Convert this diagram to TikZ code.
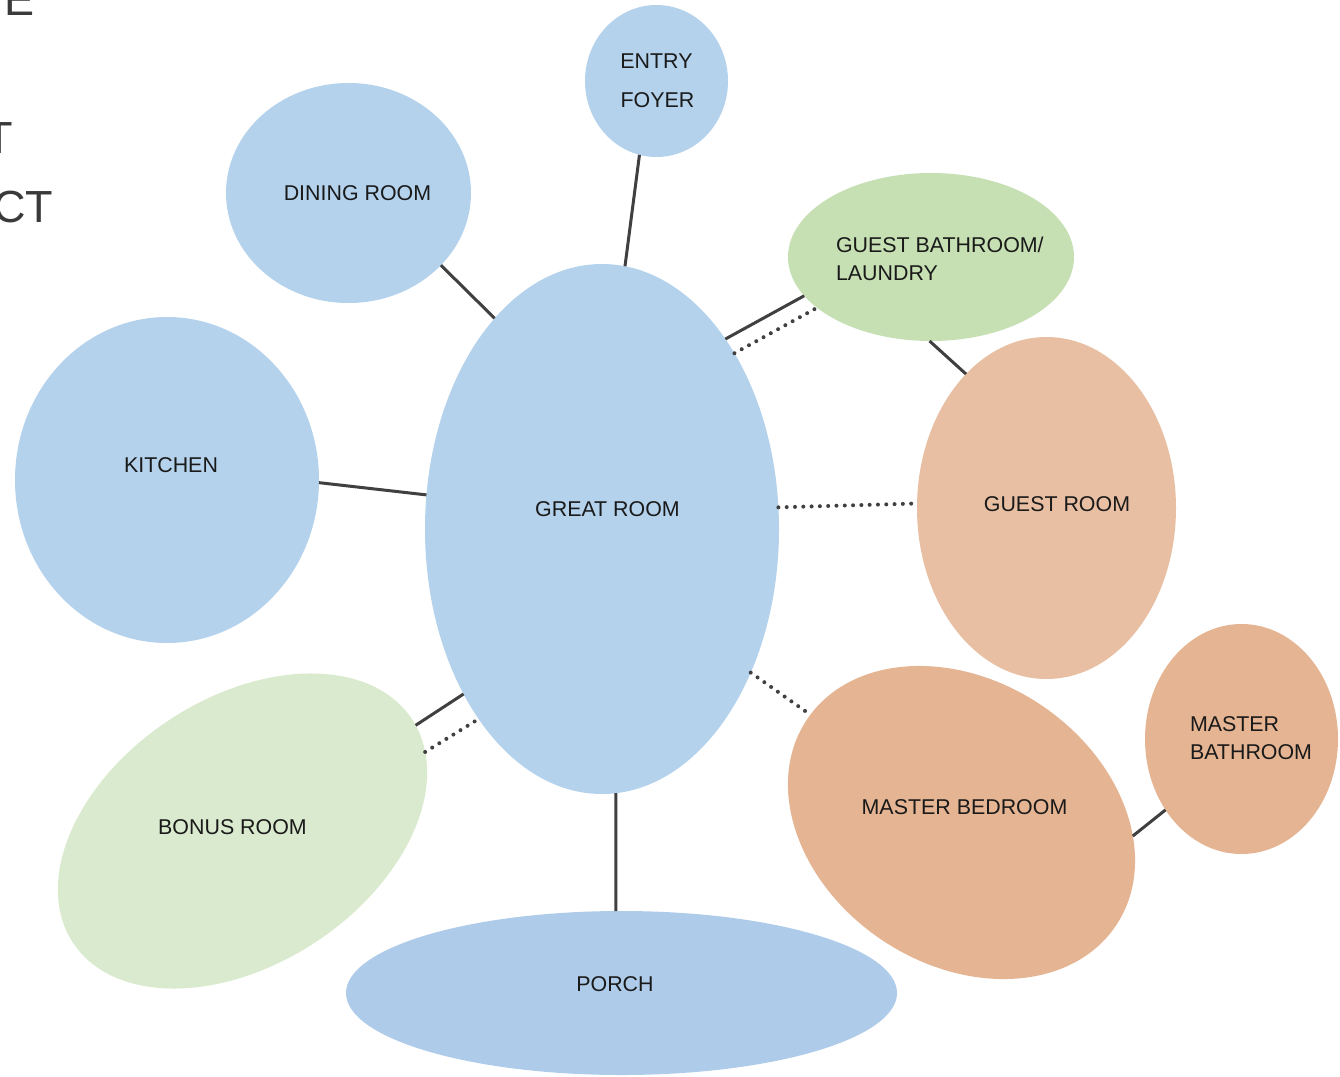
\documentclass[tikz,border=0pt]{standalone}
\usepackage{fontspec}
\setmainfont{Liberation Sans}
\usetikzlibrary{shapes.geometric}
\definecolor{roomblue}{HTML}{B4D2EC}
\definecolor{porchblue}{HTML}{AECCEA}
\definecolor{bathgreen}{HTML}{C6E0B4}
\definecolor{bonusgreen}{HTML}{D9EACE}
\definecolor{guestpeach}{HTML}{E8BFA2}
\definecolor{masterpeach}{HTML}{E5B492}
\definecolor{linkgray}{HTML}{404040}
\definecolor{labelgray}{HTML}{1A1A1A}
\definecolor{fraggray}{HTML}{3A3A3A}
\begin{document}
\begin{tikzpicture}[x=0.5pt,y=-0.5pt,
  room/.style={ellipse,inner sep=0pt,outer sep=0pt,draw=none},
  lbl/.style={inner sep=0pt,outer sep=0pt,font=\fontsize{10.7}{12}\selectfont,text=labelgray},
  solidlink/.style={draw=linkgray,line width=1.5pt},
  dotlink/.style={draw=linkgray,line width=2pt,line cap=round,dash pattern=on 0pt off 4.15pt},
  frag/.style={inner sep=0pt,outer sep=0pt,font=\fontsize{22.5}{27}\selectfont,text=fraggray,anchor=base east}]
\clip (0,0) rectangle (1340,1077);
\fill[white] (0,0) rectangle (1340,1077);

% rooms
\node[room,fill=roomblue,minimum width=71.5pt,minimum height=76pt] (foyer) at (656.5,81) {};
\node[room,fill=roomblue,minimum width=122.5pt,minimum height=110pt] (dining) at (348.5,193) {};
\node[room,fill=roomblue,minimum width=152pt,minimum height=163pt] (kitchen) at (167,480) {};
\node[room,fill=roomblue,minimum width=177pt,minimum height=265pt] (great) at (602,529) {};
\node[room,fill=bathgreen,minimum width=143pt,minimum height=84pt] (gbath) at (931,257) {};
\node[room,fill=guestpeach,minimum width=129.5pt,minimum height=171pt] (groom) at (1046.5,508) {};
\node[room,fill=masterpeach,minimum width=96.5pt,minimum height=115pt] (mbath) at (1241.5,739) {};
\node[room,fill=masterpeach,minimum width=185.7pt,minimum height=141.9pt,rotate=-33.5] (mbed) at (961.5,822.5) {};
\node[room,fill=bonusgreen,minimum width=203pt,minimum height=133pt,rotate=33.4] (bonus) at (242.5,831) {};
\node[room,fill=porchblue,minimum width=275.5pt,minimum height=82pt] (porch) at (621.5,993) {};

% connectors
\draw[solidlink] (foyer.-103) -- (great.85.5);
\draw[solidlink] (dining.-38) -- (great.117.5);
\draw[solidlink] (kitchen.-1) -- (great.169);
\draw[solidlink] (great.57.4) -- (gbath.197);
\draw[dotlink] (great.53) -- (gbath.204.8);
\draw[solidlink] (gbath.-91) -- (groom.121.7);
\draw[dotlink] (great.7.1) -- (groom.178.2);
\draw[dotlink] (great.-44.2) -- (mbed.178.7);
\draw[solidlink] (mbed.29.6) -- (mbath.-137.9);
\draw[solidlink] (bonus.-2.6) -- (great.-130.3);
\draw[dotlink] (bonus.-10.4) -- (great.-123);
\draw[solidlink] (great.-87.6) -- (porch.94.6);

% labels
\node[lbl,anchor=base] (t-entry) at (656.5,68) {ENTRY};
\node[lbl,anchor=base] (t-foyer) at (657.5,107) {FOYER};
\node[lbl,anchor=base] (t-dining) at (357.5,200) {DINING ROOM};
\node[lbl,anchor=base] (t-kitchen) at (171,472) {KITCHEN};
\node[lbl,anchor=base] (t-great) at (607.5,516) {GREAT ROOM};
\node[lbl,anchor=base west] (t-gbath1) at (836,252) {GUEST BATHROOM/};
\node[lbl,anchor=base west] (t-gbath2) at (836,280) {LAUNDRY};
\node[lbl,anchor=base] (t-groom) at (1057,511) {GUEST ROOM};
\node[lbl,anchor=base west] (t-mbath1) at (1190,731) {MASTER};
\node[lbl,anchor=base west] (t-mbath2) at (1190,759) {BATHROOM};
\node[lbl,anchor=base] (t-mbed) at (964.5,814) {MASTER BEDROOM};
\node[lbl,anchor=base] (t-bonus) at (232.5,834) {BONUS ROOM};
\node[lbl,anchor=base] (t-porch) at (615,991) {PORCH};

% cut-off title fragments at the left edge
\node[frag] (frag1) at (35,15) {E};
\node[frag] (frag2) at (13,153) {T};
\node[frag] (frag3) at (53,222) {CT};
\end{tikzpicture}
\end{document}
